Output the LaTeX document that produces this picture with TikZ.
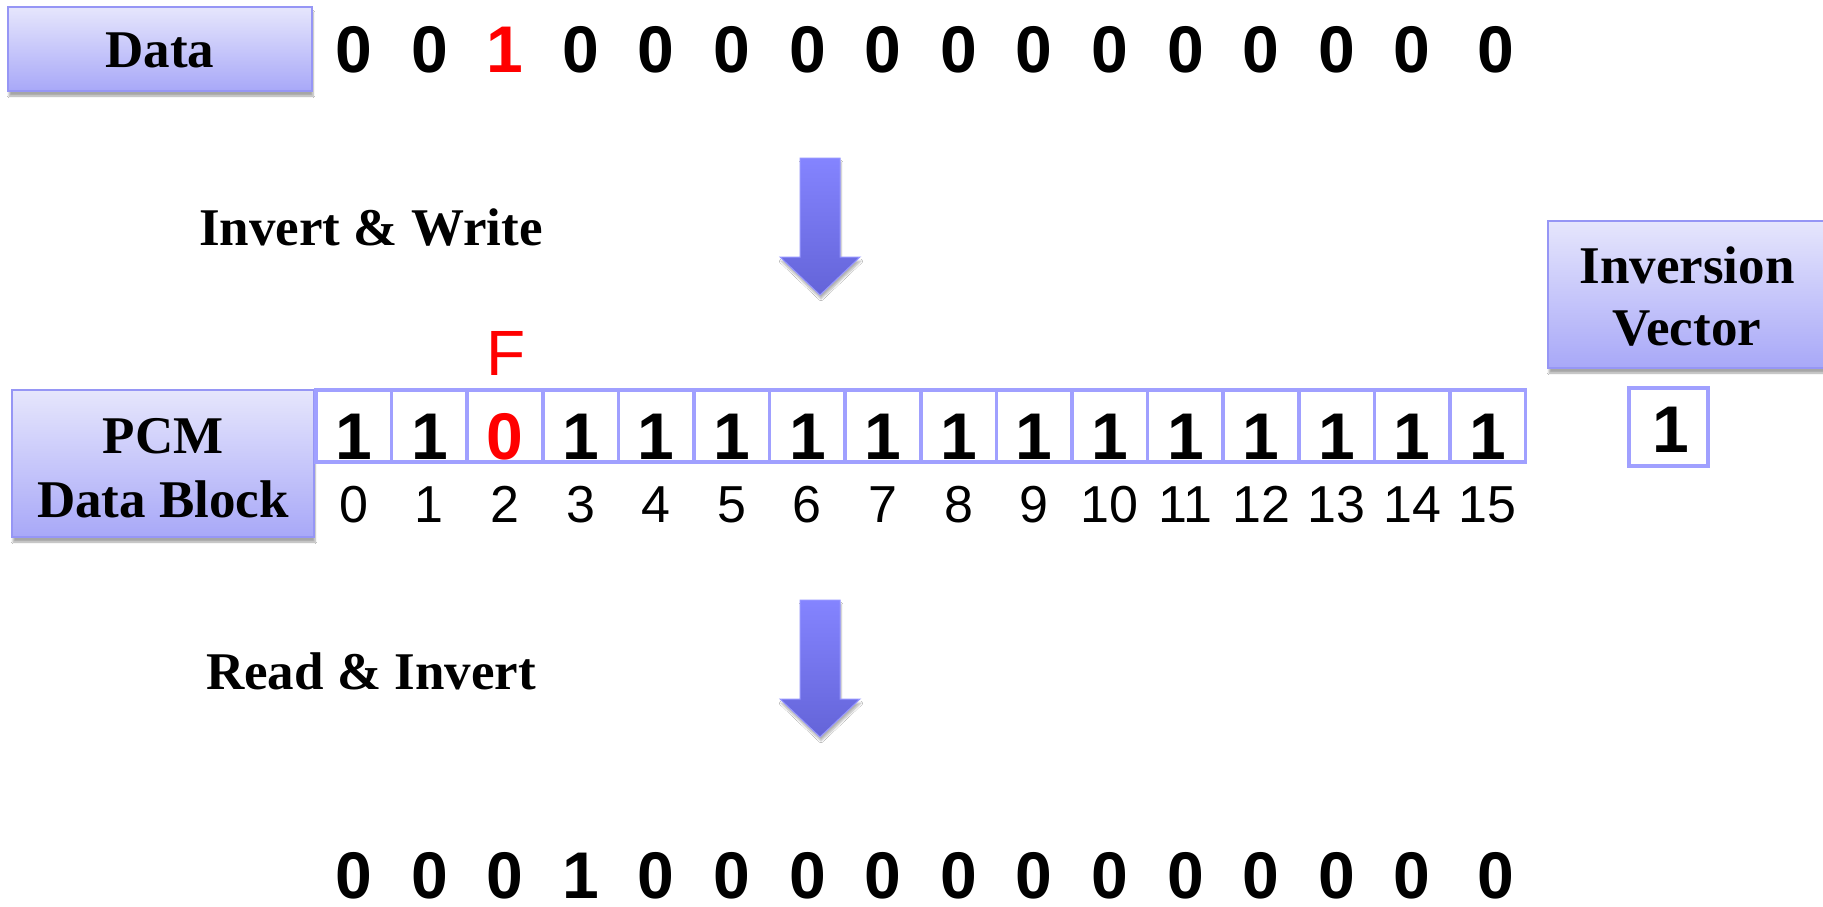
\documentclass[tikz,border=0pt]{standalone}
\usepackage{fontspec}
\setmainfont{Liberation Serif}
\newfontfamily\arialf{Liberation Sans}
\usetikzlibrary{shadows.blur}
\definecolor{boxtop}{RGB}{230,230,252}
\definecolor{boxbot}{RGB}{168,168,248}
\definecolor{boxedge}{RGB}{150,150,245}
\definecolor{celledge}{RGB}{160,160,255}
\definecolor{arrtop}{RGB}{132,132,255}
\definecolor{arrbot}{RGB}{100,100,216}
\definecolor{arredge}{RGB}{150,150,255}
\definecolor{redbit}{RGB}{255,0,0}
\tikzset{
 labelbox/.style={draw=boxedge, line width=1.5pt, top color=boxtop, bottom color=boxbot,
   inner sep=0, outer sep=0,
   blur shadow={shadow xshift=1pt, shadow yshift=-5pt, shadow blur steps=6, shadow opacity=35}},
 cellbox/.style={draw=celledge, line width=3.5pt, fill=white, minimum width=75.6pt,
   minimum height=72pt, inner sep=0, outer sep=0},
 bigbit/.style={font=\arialf\bfseries\fontsize{66}{70}\selectfont, anchor=base, inner sep=0},
 idx/.style={font=\arialf\fontsize{52}{56}\selectfont, anchor=base, inner sep=0},
 lbl/.style={font=\bfseries\fontsize{53}{60}\selectfont, anchor=base, inner sep=0},
 blockarrow/.style={top color=arrtop, bottom color=arrbot, draw=arredge, line width=1pt,
   blur shadow={shadow xshift=1pt, shadow yshift=-4pt, shadow blur steps=6, shadow opacity=30}},
}
\begin{document}
\begin{tikzpicture}[x=1pt,y=-1pt]
\useasboundingbox[fill=white] (0,0) rectangle (1823,906);
\clip (0,0) rectangle (1823,906);

% label boxes
\node[labelbox, minimum width=304pt, minimum height=84pt] (databox) at (160,49) {};
\node[lbl] (datatext) at (160,67) {Data};
\node[labelbox, minimum width=302pt, minimum height=147pt] (pcmbox) at (163,463.5) {};
\node[lbl] (pcmtext1) at (163,453) {PCM};
\node[lbl] (pcmtext2) at (163,517) {Data Block};
\node[labelbox, minimum width=300pt, minimum height=147pt] (invbox) at (1698,294.5) {};
\node[lbl] (invtext1) at (1687,283) {Inversion};
\node[lbl] (invtext2) at (1687,345) {Vector};

% data row
\foreach \v/\c/\dx [count=\i from 0] in {0/black/0,0/black/0,1/redbit/0,0/black/0,0/black/0,0/black/0,0/black/0,0/black/0,0/black/0,0/black/0,0/black/0,0/black/0,0/black/0,0/black/0,0/black/0,0/black/8}
  \node[bigbit, text=\c] (d\i) at (316+75.6*\i+37.8+\dx,72) {\v};

% PCM cells
\foreach \v/\c [count=\i from 0] in {1/black,1/black,0/redbit,1/black,1/black,1/black,1/black,1/black,1/black,1/black,1/black,1/black,1/black,1/black,1/black,1/black}{
  \node[cellbox] (c\i) at (316+75.6*\i+37.8,426) {};
  \node[bigbit, text=\c] (v\i) at (316+75.6*\i+37.8,459) {\v};
  \node[idx] (n\i) at (316+75.6*\i+37.8,522) {\i};
}

% fault marker
\node[font=\arialf\fontsize{64}{68}\selectfont, text=redbit, anchor=base, inner sep=0] (fault) at (506,375) {F};

% inversion vector cell
\node[cellbox, minimum width=79pt, minimum height=78pt] (ivcell) at (1668.5,427) {};
\node[bigbit] (ivbit) at (1671,452) {1};

% result row
\foreach \v/\dx [count=\i from 0] in {0/0,0/0,0/0,1/0,0/0,0/0,0/0,0/0,0/0,0/0,0/0,0/0,0/0,0/0,0/0,0/8}
  \node[bigbit] (r\i) at (316+75.6*\i+37.8+\dx,898) {\v};

% operation labels
\node[lbl] (writelbl) at (371,245) {Invert \& Write};
\node[lbl] (readlbl) at (371,689) {Read \& Invert};

% block arrows
\path[blockarrow] (800,158) -- (840,158) -- (840,257) -- (860,257) -- (820,295) -- (780,257) -- (800,257) -- cycle;
\path[blockarrow] (800,600) -- (840,600) -- (840,699) -- (860,699) -- (820,737) -- (780,699) -- (800,699) -- cycle;
\end{tikzpicture}
\end{document}
